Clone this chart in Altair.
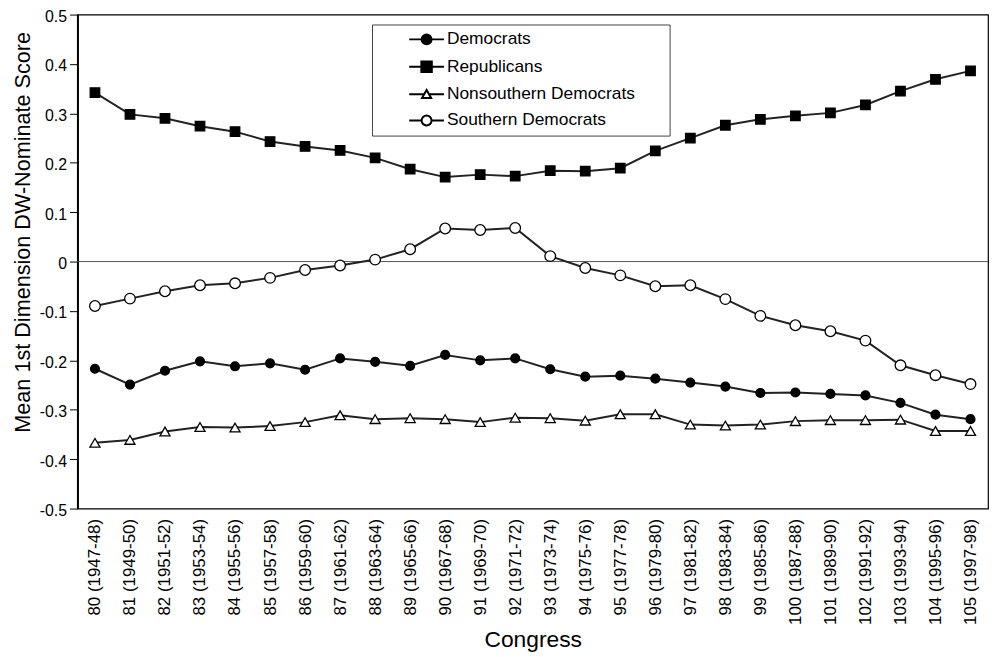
import altair as alt
import pandas as pd

congress_labels = [
    "80 (1947-48)", "81 (1949-50)", "82 (1951-52)", "83 (1953-54)", "84 (1955-56)",
    "85 (1957-58)", "86 (1959-60)", "87 (1961-62)", "88 (1963-64)", "89 (1965-66)",
    "90 (1967-68)", "91 (1969-70)", "92 (1971-72)", "93 (1973-74)", "94 (1975-76)",
    "95 (1977-78)", "96 (1979-80)", "97 (1981-82)", "98 (1983-84)", "99 (1985-86)",
    "100 (1987-88)", "101 (1989-90)", "102 (1991-92)", "103 (1993-94)", "104 (1995-96)",
    "105 (1997-98)",
]

democrats = [-0.217, -0.249, -0.221, -0.202, -0.212, -0.206, -0.219, -0.196, -0.203, -0.211,
             -0.189, -0.200, -0.196, -0.218, -0.233, -0.231, -0.237, -0.245, -0.253, -0.266,
             -0.265, -0.268, -0.271, -0.286, -0.310, -0.319]
republicans = [0.342, 0.298, 0.290, 0.274, 0.263, 0.243, 0.233, 0.225, 0.210, 0.187,
               0.171, 0.176, 0.173, 0.184, 0.183, 0.189, 0.224, 0.250, 0.276, 0.288,
               0.295, 0.301, 0.317, 0.345, 0.369, 0.386]
nonsouthern = [-0.367, -0.361, -0.344, -0.335, -0.336, -0.333, -0.325, -0.311, -0.319, -0.317,
               -0.319, -0.325, -0.316, -0.317, -0.322, -0.309, -0.309, -0.330, -0.332, -0.330,
               -0.323, -0.321, -0.321, -0.320, -0.343, -0.343]
southern = [-0.090, -0.075, -0.060, -0.048, -0.044, -0.033, -0.017, -0.008, 0.004, 0.025,
            0.067, 0.064, 0.068, 0.011, -0.013, -0.028, -0.050, -0.048, -0.076, -0.110,
            -0.129, -0.141, -0.160, -0.210, -0.230, -0.248]

series_names = ["Democrats", "Republicans", "Nonsouthern Democrats", "Southern Democrats"]
series_values = [democrats, republicans, nonsouthern, southern]
y_ticks = [-0.5, -0.4, -0.3, -0.2, -0.1, 0.0, 0.1, 0.2, 0.3, 0.4, 0.5]

rows = []
for name, vals in zip(series_names, series_values):
    for lab, v in zip(congress_labels, vals):
        rows.append({"congress": lab, "series": name, "value": v})
df = pd.DataFrame(rows)

FONT = "Liberation Sans"

x_enc = alt.X(
    "congress:N",
    sort=congress_labels,
    scale=alt.Scale(type="point", padding=0.5),
    axis=alt.Axis(
        title="Congress", labelAngle=-90, ticks=False, domain=False, grid=False,
        labelFont=FONT, labelFontSize=17, labelColor="black", labelPadding=10,
        titleFont=FONT, titleFontSize=23, titleFontWeight="normal", titleColor="black",
        titleY=139, titleBaseline="alphabetic",
    ),
)
y_enc = alt.Y(
    "value:Q",
    scale=alt.Scale(domain=[-0.5, 0.5], nice=False, zero=False),
    axis=alt.Axis(
        title="Mean 1st Dimension DW-Nominate Score", values=y_ticks, grid=False,
        labelExpr="(datum.value < -0.0001 ? '-' : '') + (abs(datum.value) < 0.0001 ? '0' : format(abs(datum.value), '.1f'))",
        tickSize=8, tickColor="black", tickWidth=1, domainColor="black", domainWidth=2,
        labelFont=FONT, labelFontSize=16, labelColor="black", labelPadding=3, labelOffset=2,
        titleFont=FONT, titleFontSize=21.8, titleFontWeight="normal", titleColor="black",
        titleX=-48, titleY=219, titleBaseline="alphabetic", titleAngle=-90, titleAlign="center",
    ),
)

base = alt.Chart(df)

zero_rule = alt.Chart(pd.DataFrame({"zero": [0.0]})).mark_rule(color="#555", strokeWidth=1).encode(
    y=alt.Y("zero:Q")
)

lines = base.mark_line(color="#222").encode(
    x=x_enc,
    y=y_enc,
    detail="series:N",
    strokeWidth=alt.StrokeWidth(
        "series:N", scale=alt.Scale(domain=series_names, range=[2, 2, 0.9, 0.9]), legend=None
    ),
)

points = base.mark_point(filled=True, stroke="black", strokeWidth=1.3, opacity=1).encode(
    x=x_enc,
    y=y_enc,
    shape=alt.Shape(
        "series:N",
        scale=alt.Scale(domain=series_names, range=["circle", "square", "triangle-up", "circle"]),
        legend=None,
    ),
    fill=alt.Fill(
        "series:N",
        scale=alt.Scale(domain=series_names, range=["black", "black", "white", "white"]),
        legend=None,
    ),
    size=alt.Size(
        "series:N", scale=alt.Scale(domain=series_names, range=[80, 115, 95, 85]), legend=None
    ),
)

# legend symbols: a short line with the series marker (unit = sqrt(symbolSize)/2 px)
L = 2.06
r = 0.588
q = 0.62
circ = f"M-{r},0A{r},{r},0,1,0,{r},0A{r},{r},0,1,0,-{r},0Z"
legend_paths = [
    f"M-{L},0H{L}" + circ,
    f"M-{L},0H{L}M-{q},-{q}H{q}V{q}H-{q}Z",
    f"M-{L},0H-0.27M0.27,0H{L}M0,-0.5L0.54,0.46L-0.54,0.46Z",
    f"M-{L},0H-{r}M{r},0H{L}" + circ,
]

leg = alt.Legend(
    orient="none", legendX=297, legendY=10,
    title=" ", titleOrient="right", titlePadding=29, titleFontSize=17,
    padding=5.5, rowPadding=8.6, symbolSize=289, symbolOffset=40, labelOffset=11,
    symbolStrokeColor="black", symbolOpacity=1,
    labelFont=FONT, labelFontSize=17.5, labelColor="black", labelLimit=400,
    strokeColor="#444", fillColor="white",
)

legend_layer = base.mark_point(filled=True, stroke="black", opacity=0).encode(
    x=x_enc,
    y=y_enc,
    shape=alt.Shape("series:N", scale=alt.Scale(domain=series_names, range=legend_paths), legend=leg),
    fill=alt.Fill(
        "series:N",
        scale=alt.Scale(domain=series_names, range=["black", "black", "white", "white"]),
        legend=leg,
    ),
    stroke=alt.Stroke(
        "series:N",
        scale=alt.Scale(domain=series_names, range=["black", "black", "black", "black"]),
        legend=leg,
    ),
    strokeWidth=alt.StrokeWidth(
        "series:N", scale=alt.Scale(domain=series_names, range=[2, 2, 1.1, 1.1]), legend=leg
    ),
)

chart = (
    alt.layer(zero_rule, lines, points, legend_layer)
    .resolve_scale(shape="independent", fill="independent", stroke="independent",
                   strokeWidth="independent", size="independent")
    .properties(
        width=918, height=498,
        autosize="none",
        padding={"left": 70, "top": 4, "right": 2, "bottom": 145},
        background="white",
    )
    .configure_view(stroke="black", strokeWidth=1.2)
)

chart.save("out.html", embed_options={"renderer": "svg", "actions": False})
